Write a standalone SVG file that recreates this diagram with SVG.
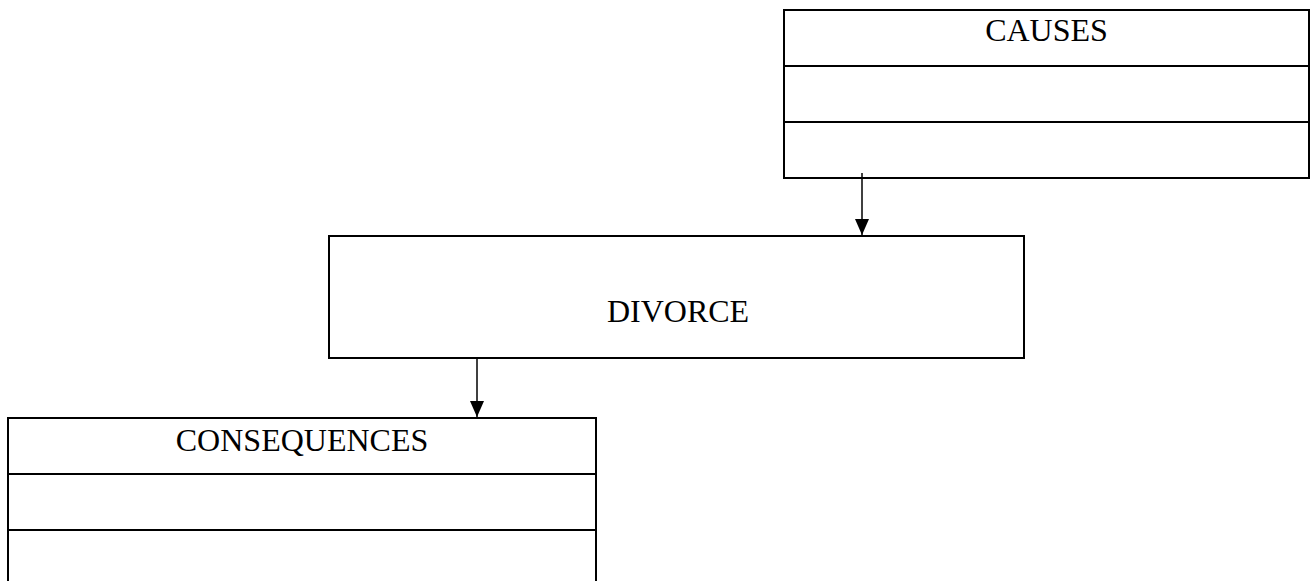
<svg xmlns="http://www.w3.org/2000/svg" width="1314" height="581" viewBox="0 0 1314 581">
  <style>
    .box { fill: #ffffff; stroke: #000000; stroke-width: 2; }
    .rule { stroke: #000000; stroke-width: 2; }
    .label { font-family: "Liberation Serif", "Times New Roman", serif; font-size: 32px; fill: #000000; text-anchor: middle; }
    .link { stroke: #000000; stroke-width: 1.5; fill: none; }
  </style>
  <defs>
    <!-- solid triangular head, 16 long by 14 wide -->
    <marker id="arrowhead" markerWidth="16" markerHeight="14" refX="16" refY="7" orient="auto" markerUnits="userSpaceOnUse">
      <path d="M0,0 L16,7 L0,14 Z" fill="#000000"/>
    </marker>
  </defs>
  <rect width="1314" height="581" fill="#ffffff"/>

  <g id="causes">
    <rect class="box" x="784" y="10" width="525" height="168"/>
    <line class="rule" x1="784" y1="66" x2="1309" y2="66"/>
    <line class="rule" x1="784" y1="122" x2="1309" y2="122"/>
    <text class="label" x="1046.5" y="41">CAUSES</text>
  </g>

  <g id="divorce">
    <rect class="box" x="329" y="236" width="695" height="122"/>
    <text class="label" x="678" y="322">DIVORCE</text>
  </g>

  <g id="consequences">
    <rect class="box" x="8" y="418" width="588" height="170"/>
    <line class="rule" x1="8" y1="474" x2="596" y2="474"/>
    <line class="rule" x1="8" y1="530" x2="596" y2="530"/>
    <text class="label" x="302" y="451">CONSEQUENCES</text>
  </g>

  <g id="connectors">
    <line class="link" x1="862" y1="173" x2="862" y2="235" marker-end="url(#arrowhead)"/>
    <line class="link" x1="477" y1="358" x2="477" y2="417" marker-end="url(#arrowhead)"/>
  </g>
</svg>
